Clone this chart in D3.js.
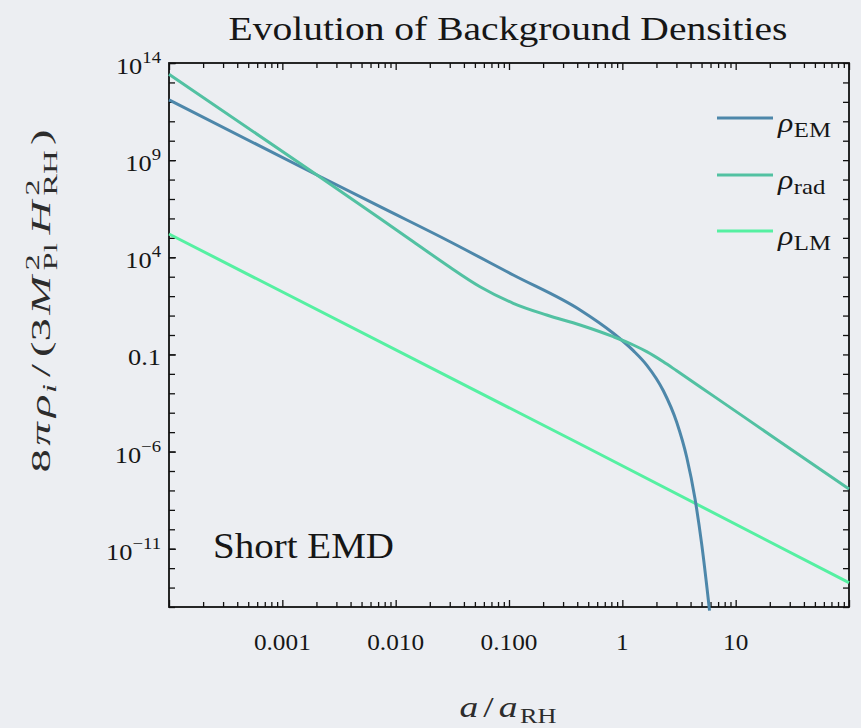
<!DOCTYPE html>
<html><head><meta charset="utf-8">
<script src="https://cdn.jsdelivr.net/npm/d3@7"></script>
<style>
html,body{margin:0;padding:0;background:#eceef2;}
svg{display:block;}
text{font-family:"Liberation Serif","Times New Roman",serif;fill:#161616;}
.math text{fill:#2c2c2c;}
</style></head><body>
<svg id="chart" width="861" height="728"></svg>
<script>
// ---- data ----
const seriesNames = ["EM", "rad", "LM"];
const seriesColors = ["#4d87aa", "#52c1a2", "#55f0a2"];

const aEM   = [1e-4, 2.02e-3, 7.28e-3, 0.0282, 0.109, 0.424, 0.8325, 1.250, 1.641, 2.300, 3.019, 3.700, 4.378, 5.018, 5.737, 5.878];
const rhoEM = [1.26e12, 1.72e8, 4.02e6, 7.76e4, 1.23e3, 19.4, 1.227, 0.156, 0.0283, 1.346e-3, 3.22e-5, 5.09e-7, 3.72e-9, 1.675e-11, 2.36e-14, 6.56e-15];

const aRad   = [1e-4, 2.02e-3, 7.28e-3, 0.01432, 0.0282, 0.0555, 0.109, 0.215, 0.424, 0.8325, 1.250, 1.641, 2.300, 3.019, 6.348, 24.6, 100];
const rhoRad = [2.62e13, 1.72e8, 1.0e6, 6.35e4, 4.02e3, 307, 43.0, 10.7, 3.28, 0.818, 0.306, 0.139, 0.0419, 0.01439, 7.36e-4, 3.23e-6, 1.19e-8];

const aLM   = [1e-4, 0.424, 100];
const rhoLM = [1.58e5, 2.45e-6, 1.78e-13];

const xTickValues = [0.001, 0.01, 0.1, 1, 10];
const xTickLabels = ["0.001", "0.010", "0.100", "1", "10"];
const yTickValues = [1e14, 1e9, 1e4, 0.1, 1e-6, 1e-11];
const yTickBase   = ["10", "10", "10", "0.1", "10", "10"];
const yTickExp    = ["14", "9", "4", "", "\u22126", "\u221211"];

const titleText = "Evolution of Background Densities";
const annotationText = "Short EMD";

// ---- layout ----
const svg = d3.select("#chart");
const L = 169, R = 849, T = 63, B = 607;
const x = d3.scaleLog().domain([1e-4, 100]).range([L, R]);
const y = d3.scaleLog().domain([1e-14, 1e14]).range([B, T]);

svg.append("rect").attr("width", 861).attr("height", 728).attr("fill", "#eceef2");

const xMinor = [];
for (let k = -4; k <= 1; k++) for (let m = 2; m <= 9; m++) xMinor.push(m * Math.pow(10, k));
const xMajor = d3.range(-4, 3).map(k => Math.pow(10, k));
const yAll = d3.range(-14, 15).map(k => Math.pow(10, k));

function styleAxis(g) {
  g.select(".domain").remove();
  g.selectAll(".tick line").attr("stroke", "#111").attr("stroke-width", 1.3);
  g.selectAll(".tick text").remove();
}
svg.append("g").attr("transform", `translate(0,${B})`)
  .call(d3.axisBottom(x).tickValues(xMinor).tickSize(-5).tickFormat("")).call(styleAxis);
svg.append("g").attr("transform", `translate(0,${B})`)
  .call(d3.axisBottom(x).tickValues(xMajor).tickSize(-7).tickFormat("")).call(styleAxis);
svg.append("g").attr("transform", `translate(0,${T})`)
  .call(d3.axisTop(x).tickValues(xMinor).tickSize(-5).tickFormat("")).call(styleAxis);
svg.append("g").attr("transform", `translate(0,${T})`)
  .call(d3.axisTop(x).tickValues(xMajor).tickSize(-7).tickFormat("")).call(styleAxis);
svg.append("g").attr("transform", `translate(${L},0)`)
  .call(d3.axisLeft(y).tickValues(yAll).tickSize(-6).tickFormat("")).call(styleAxis);
svg.append("g").attr("transform", `translate(${R},0)`)
  .call(d3.axisRight(y).tickValues(yAll).tickSize(-6).tickFormat("")).call(styleAxis);
svg.append("g").attr("transform", `translate(${L},0)`)
  .call(d3.axisLeft(y).tickValues(yTickValues).tickSize(-7).tickFormat("")).call(styleAxis);

svg.append("rect").attr("x", L).attr("y", T).attr("width", R - L).attr("height", B - T)
  .attr("fill", "none").attr("stroke", "#111").attr("stroke-width", 1.8);

// curves
const line = d3.line().x(d => x(d[0])).y(d => y(d[1])).curve(d3.curveMonotoneX);
const series = [d3.zip(aEM, rhoEM), d3.zip(aRad, rhoRad), d3.zip(aLM, rhoLM)];
[2, 0, 1].forEach(i => {
  svg.append("path").attr("d", line(series[i])).attr("fill", "none")
    .attr("stroke", seriesColors[i]).attr("stroke-width", 3);
});

const SX = 1.1;
svg.append("g").selectAll("text").data(xTickValues).join("text")
  .attr("transform", d => `translate(${x(d)},650) scale(${SX},1)`)
  .attr("text-anchor", "middle").attr("font-size", 23)
  .text((d, i) => xTickLabels[i]);

yTickValues.forEach((v, i) => {
  const t = svg.append("text")
    .attr("transform", `translate(161,${y(v) + 11}) scale(${SX},1)`)
    .attr("text-anchor", "end").attr("font-size", 24);
  t.append("tspan").text(yTickBase[i]);
  if (yTickExp[i]) t.append("tspan").attr("font-size", 17).attr("dy", -11).text(yTickExp[i]);
});

svg.append("text").attr("x", 508).attr("y", 40).attr("text-anchor", "middle")
  .attr("font-size", 34).attr("textLength", 559).attr("lengthAdjust", "spacingAndGlyphs")
  .text(titleText);

svg.append("text").attr("x", 213).attr("y", 558).attr("font-size", 35)
  .attr("textLength", 181).attr("lengthAdjust", "spacingAndGlyphs").text(annotationText);

function mathText(parent, runs, target) {
  const g = parent.append("g").attr("class", "math");
  let cx = 0, lastStart = 0;
  runs.forEach(r => {
    const start = r.stack ? lastStart : cx + (r.gap || 0);
    const t = g.append("text").attr("x", start).attr("y", r.dy || 0)
      .attr("font-size", r.f).attr("font-style", r.it ? "italic" : "normal").text(r.t);
    const w = t.node().getComputedTextLength();
    if (r.stack) cx = Math.max(cx, start + w);
    else { lastStart = start; cx = start + w; }
  });
  const sx = target ? target / cx : 1;
  g.attr("transform", `scale(${sx},1) translate(${-cx / 2},0)`);
  return g;
}

const F = 27;
const yl = svg.append("g").attr("transform", "translate(50,301) rotate(-90)");
mathText(yl, [
  {t: "8", f: F}, {t: "\u03c0", f: F, it: 1, gap: 2}, {t: "\u03c1", f: F, it: 1, gap: 3},
  {t: "i", f: F * 0.7, it: 1, dy: F * 0.22, gap: 1},
  {t: "/", f: F, gap: 4}, {t: "(3", f: F, gap: 4},
  {t: "M", f: F, it: 1, gap: 2},
  {t: "2", f: F * 0.7, dy: -F * 0.42, gap: 3}, {t: "Pl", f: F * 0.7, dy: F * 0.25, stack: 1},
  {t: "H", f: F, it: 1, gap: 5},
  {t: "2", f: F * 0.7, dy: -F * 0.42, gap: 3}, {t: "RH", f: F * 0.7, dy: F * 0.25, stack: 1},
  {t: ")", f: F, gap: 3}
], 343);

const xl = svg.append("g").attr("transform", "translate(508,717)");
mathText(xl, [
  {t: "a", f: 30, it: 1}, {t: "/", f: 30, gap: 4}, {t: "a", f: 30, it: 1, gap: 4},
  {t: "RH", f: 21, dy: 6, gap: 2}
], 97);

const legendSubs = ["EM", "rad", "LM"];
const legendY = [118, 175, 231];
seriesNames.forEach((n, i) => {
  svg.append("line").attr("x1", 717).attr("x2", 773).attr("y1", legendY[i]).attr("y2", legendY[i])
    .attr("stroke", seriesColors[i]).attr("stroke-width", 3);
  const t = svg.append("text")
    .attr("transform", `translate(778,${legendY[i] + 14}) scale(1.18,1)`)
    .attr("font-size", 27);
  t.append("tspan").attr("font-style", "italic").text("\u03c1");
  t.append("tspan").attr("font-size", 21).attr("dy", 4.5).attr("dx", 0.5).text(legendSubs[i]);
});
</script>
</body></html>
